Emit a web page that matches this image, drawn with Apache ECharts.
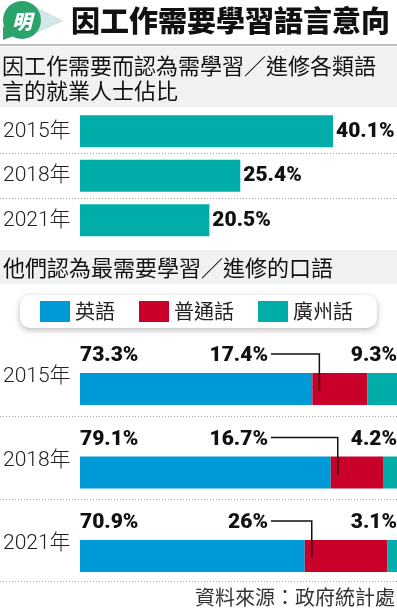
<!DOCTYPE html>
<html>
<head>
<meta charset="utf-8">
<script src="https://cdn.jsdelivr.net/npm/echarts@6/dist/echarts.min.js"></script>
<style>
html,body{margin:0;padding:0;background:#fff;}
#c{width:397px;height:609px;}
</style>
</head>
<body>
<div id="c"></div>
<script>
// ---- data ----
const years = ['2015年', '2018年', '2021年'];
const needShare = [40.1, 25.4, 20.5];           // % of employed persons who think they need to learn languages
const english = [73.3, 79.1, 70.9];
const putonghua = [17.4, 16.7, 26];
const cantonese = [9.3, 4.2, 3.1];
const seriesNames = ['英語', '普通話', '廣州話'];
const labelText1 = ['40.1%', '25.4%', '20.5%'];
const engText = ['73.3%', '79.1%', '70.9%'];
const putText = ['17.4%', '16.7%', '26%'];
const canText = ['9.3%', '4.2%', '3.1%'];

const CJK = '"Noto Sans CJK TC","Noto Sans CJK SC",sans-serif';
const YEARF = 'Roboto,"Noto Sans CJK TC",sans-serif';
const NUM = 'Roboto,"Liberation Sans",Arial,sans-serif';
const TEAL = '#00ADA8', BLUE = '#0099D8', RED = '#C8002A';

const chart = echarts.init(document.getElementById('c'), null, {renderer: 'canvas'});

function dotted(y) {
  return {type: 'line', shape: {x1: 0, y1: y, x2: 397, y2: y},
    style: {stroke: '#a8a8a8', lineWidth: 1, lineDash: [1, 2]}, silent: true};
}

const yearLabel = {align: 'left', margin: 77, fontSize: 21, fontWeight: 300, color: '#222', fontFamily: YEARF, verticalAlign: 'middle'};

const option = {
  backgroundColor: '#fff',
  animation: false,
  graphic: [
    // logo
    {type: 'polygon', shape: {points: [[34, 6], [64, 21], [34, 34]]}, style: {fill: '#d5e6e8'}},
    {type: 'circle', shape: {cx: 22, cy: 20, r: 19}, style: {fill: '#2ba36b'}},
    {type: 'polygon', shape: {points: [[3, 26], [3, 40], [14, 36]]}, style: {fill: '#2ba36b'}},
    {type: 'text', x: 22, y: 21, style: {text: '明', fill: '#fff', font: 'italic 900 20px ' + CJK, align: 'center', verticalAlign: 'middle'}},
    // title
    {type: 'text', x: 71, y: 21, style: {text: '因工作需要學習語言意向', fill: '#111', font: '900 29px ' + CJK, verticalAlign: 'middle'}},
    {type: 'rect', shape: {x: 0, y: 44, width: 397, height: 2}, style: {fill: '#bdbdbd'}},
    // subtitle 1
    {type: 'rect', shape: {x: 0, y: 47, width: 397, height: 60}, style: {fill: '#f0f1f3'}},
    {type: 'text', x: 2, y: 66, style: {text: '因工作需要而認為需學習／進修各類語', fill: '#111', font: '22px ' + CJK, verticalAlign: 'middle'}},
    {type: 'text', x: 2, y: 91, style: {text: '言的就業人士佔比', fill: '#111', font: '22px ' + CJK, verticalAlign: 'middle'}},
    // subtitle 2
    {type: 'rect', shape: {x: 0, y: 250, width: 397, height: 34}, style: {fill: '#f0f1f3'}},
    {type: 'text', x: 3, y: 268, style: {text: '他們認為最需要學習／進修的口語', fill: '#111', font: '22px ' + CJK, verticalAlign: 'middle'}},
    // separators
    dotted(153.5), dotted(198.5), dotted(416.5), dotted(499.5), dotted(581.5),
    // source
    {type: 'text', x: 395, y: 597, style: {text: '資料來源：政府統計處', fill: '#333', font: '20px ' + CJK, align: 'right', verticalAlign: 'middle'}}
  ],
  legend: {
    data: seriesNames,
    left: 20, top: 295,
    padding: [6, 24, 6, 20],
    itemGap: 24,
    itemWidth: 30, itemHeight: 21,
    icon: 'rect',
    backgroundColor: '#fff',
    borderRadius: 10,
    shadowBlur: 6, shadowColor: 'rgba(0,0,0,0.28)', shadowOffsetY: 2,
    textStyle: {fontSize: 20, color: '#222', fontFamily: CJK},
    selectedMode: false
  },
  grid: [
    {left: 78, width: 317.5, top: 109, height: 133.5},
    {left: 78, width: 319, top: 347.25, height: 250.5}
  ],
  xAxis: [
    {gridIndex: 0, type: 'value', min: 0, max: 50, show: false},
    {gridIndex: 1, type: 'value', min: 0, max: 100, show: false}
  ],
  yAxis: [
    {gridIndex: 0, type: 'category', data: years, inverse: true,
      axisLine: {show: false}, axisTick: {show: false}, splitLine: {show: false},
      axisLabel: yearLabel},
    {gridIndex: 1, type: 'category', data: years, inverse: true,
      axisLine: {show: false}, axisTick: {show: false}, splitLine: {show: false},
      axisLabel: Object.assign({}, yearLabel, {
        formatter: (v) => '{a|' + v + '}\n{b|}',
        rich: {a: {fontSize: 21, fontWeight: 300, color: '#222', fontFamily: YEARF, height: 24}, b: {height: 24}}
      })}
  ],
  series: [
    {name: '就業人士', type: 'bar', xAxisIndex: 0, yAxisIndex: 0, data: needShare, barWidth: 32,
      itemStyle: {color: TEAL},
      label: {show: true, position: 'right', distance: 3, formatter: (p) => labelText1[p.dataIndex],
        fontFamily: NUM, fontWeight: 900, fontSize: 21, color: '#111'}},
    {name: seriesNames[0], type: 'bar', stack: 'lang', xAxisIndex: 1, yAxisIndex: 1, data: english, barWidth: 32, itemStyle: {color: BLUE}},
    {name: seriesNames[1], type: 'bar', stack: 'lang', xAxisIndex: 1, yAxisIndex: 1, data: putonghua, barWidth: 32, itemStyle: {color: RED}},
    {name: seriesNames[2], type: 'bar', stack: 'lang', xAxisIndex: 1, yAxisIndex: 1, data: cantonese, barWidth: 32, itemStyle: {color: TEAL}},
    {name: 'annot', type: 'custom', xAxisIndex: 1, yAxisIndex: 1, silent: true, z: 10,
      data: years.map((y, i) => [english[i], i]),
      encode: {x: 0, y: 1},
      renderItem: function (params, api) {
        const i = params.dataIndex;
        const p0 = api.coord([0, i]);
        const yc = p0[1];
        const ly = yc - 33;
        const xRed = api.coord([english[i], i])[0];
        const xEnd = api.coord([100, i])[0];
        const xLab = api.coord([59.3, i])[0];
        const font = '900 21px ' + NUM;
        return {type: 'group', children: [
          {type: 'text', style: {x: p0[0], y: ly, text: engText[i], font: font, fill: '#111', align: 'left', verticalAlign: 'middle'}},
          {type: 'text', style: {x: xLab, y: ly, text: putText[i], font: font, fill: '#111', align: 'right', verticalAlign: 'middle'}},
          {type: 'text', style: {x: xEnd, y: ly, text: canText[i], font: font, fill: '#111', align: 'right', verticalAlign: 'middle'}},
          {type: 'polyline', shape: {points: [[xLab + 3, ly - 2], [xRed + 7, ly - 2], [xRed + 7, yc + 2]]},
            style: {stroke: '#111', lineWidth: 1.5, fill: null}}
        ]};
      }
    }
  ]
};
chart.setOption(option);
</script>
</body>
</html>
